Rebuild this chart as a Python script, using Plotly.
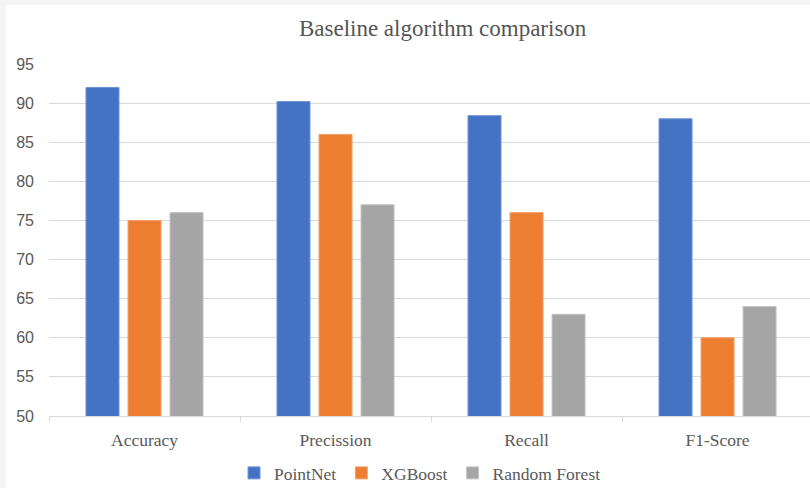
import plotly.graph_objects as go

categories = ["Accuracy", "Precission", "Recall", "F1-Score"]
pointnet = [92, 90.2, 88.4, 88]
xgboost = [75, 86, 76, 60]
random_forest = [76, 77, 63, 64]
y_ticks = [50, 55, 60, 65, 70, 75, 80, 85, 90, 95]

W, H = 810, 488
SERIF = "Liberation Serif, Times New Roman, serif"
SANS = "Liberation Sans, Arial, sans-serif"
TEXT = "#595959"
GRID = "#d9d9d9"

series = [
    ("PointNet", pointnet, "#4472C4", "#7096d6"),
    ("XGBoost", xgboost, "#ED7D31", "#f3a36c"),
    ("Random Forest", random_forest, "#A5A5A5", "#c4c4c4"),
]

fig = go.Figure()
for name, vals, color, edge in series:
    fig.add_trace(go.Bar(
        x=categories, y=vals, name=name,
        marker=dict(color=color, line=dict(color=edge, width=1)),
    ))

fig.update_layout(
    width=W, height=H,
    margin=dict(l=49, r=0, t=64, b=72, pad=0),
    paper_bgcolor="#f4f4f4",
    plot_bgcolor="rgba(0,0,0,0)",
    barmode="group",
    bargap=0.34,
    bargroupgap=0.214,
    title=dict(
        text="Baseline algorithm comparison",
        font=dict(family=SERIF, size=23, color="#555555"),
        x=419 / W, xanchor="center", xref="paper",
        y=1 - 28 / H, yanchor="middle", yref="container",
    ),
    showlegend=True,
    legend=dict(
        orientation="h",
        x=420 / W, xanchor="center", xref="container",
        y=1 - 473 / H, yanchor="middle", yref="container",
        font=dict(family=SERIF, size=17.5, color=TEXT),
        itemwidth=30, tracegroupgap=0,
        bgcolor="rgba(0,0,0,0)",
    ),
    shapes=[dict(
        type="rect", xref="paper", yref="paper",
        x0=-49 / (W - 49) + 6 / (W - 49), x1=1.0,
        y0=-72 / (H - 64 - 72), y1=1 + (64 - 5) / (H - 64 - 72),
        fillcolor="white", line=dict(width=0), layer="below",
    )],
)

fig.update_xaxes(
    range=[-0.5, 3.484],
    showline=True, linecolor=GRID, linewidth=1,
    ticks="outside", tickson="boundaries", ticklen=5, tickcolor=GRID,
    tickfont=dict(family=SERIF, size=17.5, color=TEXT),
    showgrid=False, zeroline=False, automargin=False,
    ticklabelstandoff=8,
)
fig.update_yaxes(
    range=[50, 95],
    tickvals=y_ticks,
    showgrid=True, gridcolor=GRID, gridwidth=1,
    zeroline=False, showline=False,
    tickfont=dict(family=SANS, size=16, color=TEXT),
    automargin=False, ticklabelstandoff=14,
)

fig.write_html("out.html")
